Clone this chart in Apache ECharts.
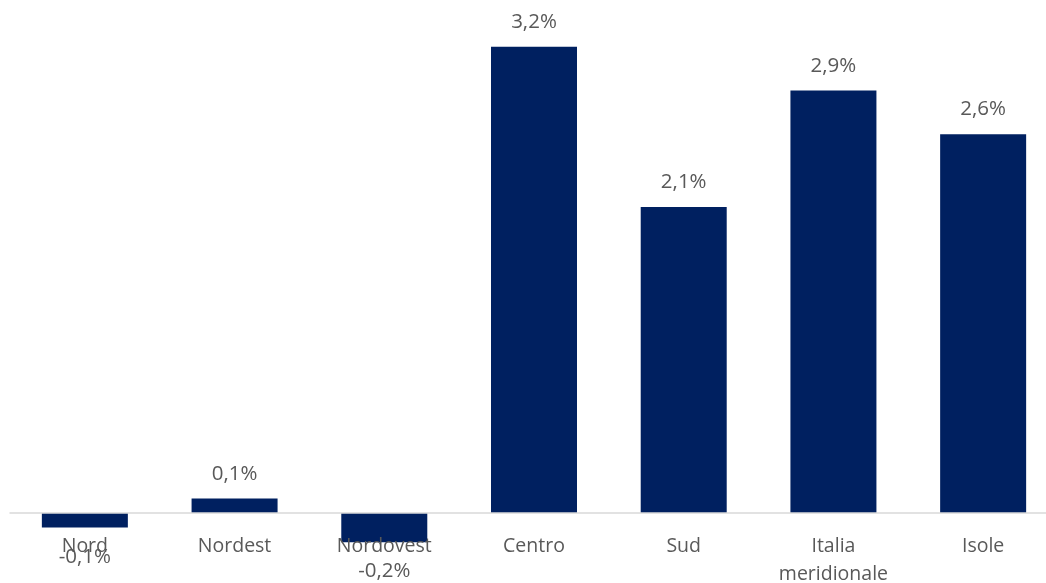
<!DOCTYPE html>
<html>
<head>
<meta charset="utf-8">
<title>Variazione per area geografica</title>
<script src="https://cdn.jsdelivr.net/npm/echarts@6/dist/echarts.min.js"></script>
<style>
  html, body { margin: 0; padding: 0; background: #ffffff; }
  #chart { width: 1046px; height: 583px; }
</style>
</head>
<body>
<div id="chart"></div>
<script>
// Areas and their percentage change
const categories = ['Nord', 'Nordest', 'Nordovest', 'Centro', 'Sud', 'Italia\nmeridionale', 'Isole'];
const values = [-0.1, 0.1, -0.2, 3.2, 2.1, 2.9, 2.6];

const fmtPct = v => v.toFixed(1).replace('.', ',') + '%';
const FONT = '"Open Sans", "Noto Sans", sans-serif';
const TEXT = '#595959';

const chart = echarts.init(document.getElementById('chart'), null, { renderer: 'canvas' });

// The grid's bottom edge is the zero line; negative bars hang below it (clip off).
chart.setOption({
  animation: false,
  backgroundColor: '#ffffff',
  grid: { left: 10, width: 1048, top: 3, bottom: 70, containLabel: false, outerBoundsMode: 'none' },
  xAxis: {
    type: 'category',
    data: categories,
    z: 10,
    axisLine: { show: true, lineStyle: { color: '#d9d9d9', width: 1.5 } },
    axisTick: { show: false },
    axisLabel: {
      interval: 0,
      margin: 19,
      color: TEXT,
      fontFamily: FONT,
      fontSize: 19.5,
      lineHeight: 28
    }
  },
  yAxis: {
    type: 'value',
    min: 0,
    max: 3.5,
    show: false,
    splitLine: { show: false }
  },
  series: [{
    type: 'bar',
    clip: false,
    data: values.map(v => ({
      value: v,
      label: { position: v < 0 ? 'bottom' : 'top', distance: v < 0 ? 19 : 14 }
    })),
    barWidth: 86,
    itemStyle: { color: '#002060' },
    label: {
      show: true,
      color: TEXT,
      fontFamily: FONT,
      fontSize: 20.5,
      formatter: p => fmtPct(p.value)
    }
  }]
});
</script>
</body>
</html>
